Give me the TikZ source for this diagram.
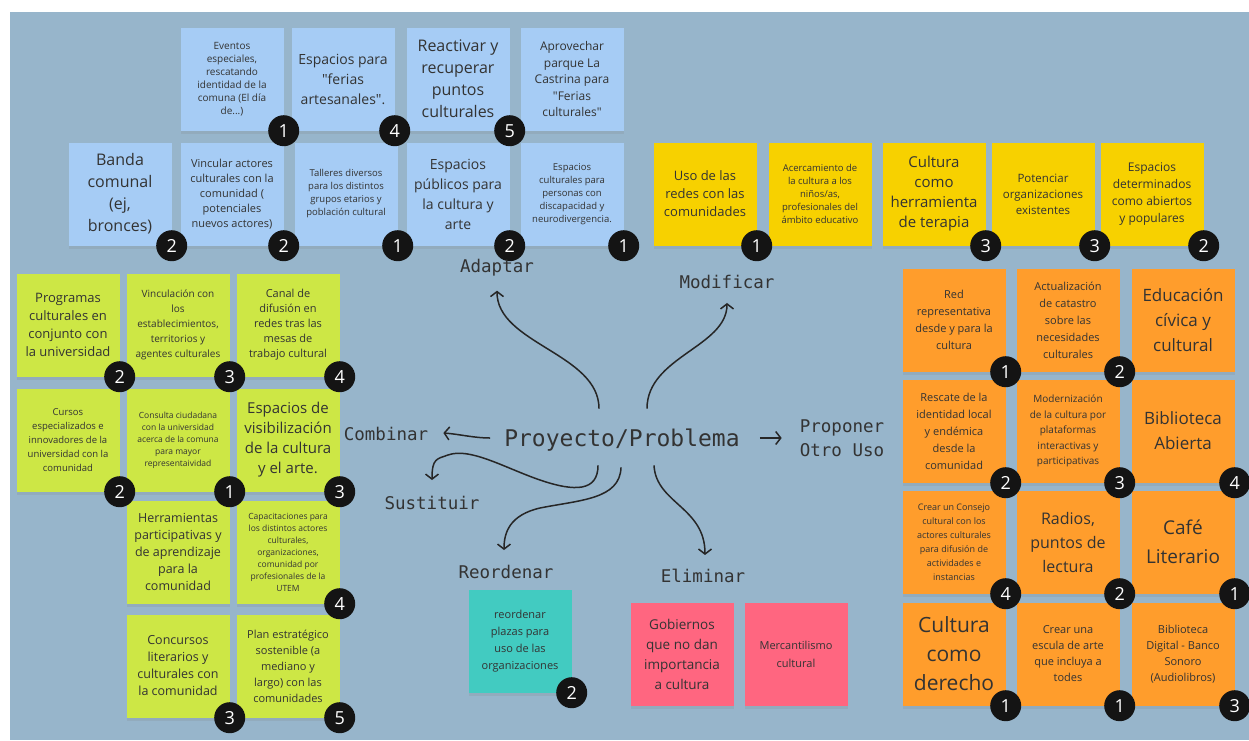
\documentclass[tikz,border=0pt]{standalone}
\usepackage{fontspec}
\setmainfont{Open Sans}
\setmonofont{DejaVu Sans Mono}
\usetikzlibrary{arrows.meta, shadows, calc}
\definecolor{fondo}{HTML}{97B5CB}
\definecolor{azul}{HTML}{A6CCF5}
\definecolor{amarillo}{HTML}{F7D100}
\definecolor{verde}{HTML}{CDE745}
\definecolor{naranja}{HTML}{FF9D2C}
\definecolor{turquesa}{HTML}{42CBC1}
\definecolor{rosa}{HTML}{FF6680}
\newcommand{\fz}[2]{\fontsize{#1}{#2}\selectfont}
\newcommand{\qq}{\textquotedbl}
\tikzstyle{note} = [rectangle, minimum width=103pt, minimum height=103pt, inner sep=0pt, align=center, text=black!80, drop shadow={shadow xshift=0pt, shadow yshift=-3pt, opacity=0.18}]
\tikzstyle{bnote} = [note, fill=azul]
\tikzstyle{ynote} = [note, fill=amarillo]
\tikzstyle{gnote} = [note, fill=verde]
\tikzstyle{onote} = [note, fill=naranja]
\tikzstyle{tnote} = [note, fill=turquesa]
\tikzstyle{pnote} = [note, fill=rosa]
\tikzstyle{badge} = [circle, fill=black!92, text=white, minimum size=31pt, inner sep=0pt, font=\fz{18}{18}]
\tikzstyle{lbl} = [inner sep=2pt, text=black!80, font=\ttfamily\fz{17.5}{24}]
\tikzstyle{arrow} = [-{Straight Barb[length=5pt,width=13pt]}, line width=1.5pt, black!85]

\begin{document}
\begin{tikzpicture}[x=1pt, y=-1pt]
\useasboundingbox (0,0) rectangle (1249,740);
\fill[white] (0,0) rectangle (1249,740);
\fill[fondo] (10,12) rectangle (1249,740);

%Adaptar (azul)
\node (ev) [bnote, font=\fz{10}{13}] at (232,79) {Eventos\\especiales,\\rescatando\\identidad de la\\comuna (El día\\de...)};
\node (fer) [bnote, font=\fz{14}{20}] at (343,79) {Espacios para\\\qq ferias\\artesanales\qq .};
\node (rea) [bnote, font=\fz{16}{22}] at (458,79) {Reactivar y\\recuperar\\puntos\\culturales};
\node (apr) [bnote, font=\fz{12}{16.5}] at (572,79) {Aprovechar\\parque La\\Castrina para\\\qq Ferias\\culturales\qq};
\node (ban) [bnote, font=\fz{16}{22}] at (120,194) {Banda\\comunal\\(ej,\\bronces)};
\node (vin) [bnote, font=\fz{11}{15}] at (232,194) {Vincular actores\\culturales con la\\comunidad (\\potenciales\\nuevos actores)};
\node (tal) [bnote, font=\fz{9.5}{13}] at (346,194) {Talleres diversos\\para los distintos\\grupos etarios y\\población cultural};
\node (esp) [bnote, font=\fz{14}{20}] at (458,194) {Espacios\\públicos para\\la cultura y\\arte};
\node (dis) [bnote, font=\fz{9.5}{13}] at (572,194) {Espacios\\culturales para\\personas con\\discapacidad y\\neurodivergencia.};
\node (ev-n) [badge] at (ev.south east) {1};
\node (fer-n) [badge] at (fer.south east) {4};
\node (rea-n) [badge] at (rea.south east) {5};
\node (ban-n) [badge] at (ban.south east) {2};
\node (vin-n) [badge] at (vin.south east) {2};
\node (tal-n) [badge] at (tal.south east) {1};
\node (esp-n) [badge] at (esp.south east) {2};
\node (dis-n) [badge] at (dis.south east) {1};

%Modificar (amarillo)
\node (red) [ynote, font=\fz{13}{18}] at (705,194) {Uso de las\\redes con las\\comunidades};
\node (ace) [ynote, font=\fz{9.5}{13}] at (820,194) {Acercamiento de\\la cultura a los\\niños/as,\\profesionales del\\ámbito educativo};
\node (ter) [ynote, font=\fz{15}{20}] at (934,194) {Cultura\\como\\herramienta\\de terapia};
\node (pot) [ynote, font=\fz{11.5}{16}] at (1043,194) {Potenciar\\organizaciones\\existentes};
\node (abi) [ynote, font=\fz{12}{17}] at (1152,194) {Espacios\\determinados\\como abiertos\\y populares};
\node (red-n) [badge] at (red.south east) {1};
\node (ter-n) [badge] at (ter.south east) {3};
\node (pot-n) [badge] at (pot.south east) {3};
\node (abi-n) [badge] at (abi.south east) {2};

%Combinar / Sustituir (verde)
\node (pro) [gnote, font=\fz{13}{18}] at (68,325) {Programas\\culturales en\\conjunto con\\la universidad};
\node (vic) [gnote, font=\fz{10}{15}] at (178,325) {Vinculación con\\los\\establecimientos,\\territorios y\\agentes culturales};
\node (can) [gnote, font=\fz{11}{15}] at (288,325) {Canal de\\difusión en\\redes tras las\\mesas de\\trabajo cultural};
\node (cur) [gnote, font=\fz{9.5}{14}] at (68,440) {Cursos\\especializados e\\innovadores de la\\universidad con la\\comunidad};
\node (con) [gnote, font=\fz{8.5}{12}] at (178,440) {Consulta ciudadana\\con la universidad\\acerca de la comuna\\para mayor\\representaividad};
\node (vis) [gnote, font=\fz{15}{20}] at (288,440) {Espacios de\\visibilización\\de la cultura\\y el arte.};
\node (her) [gnote, font=\fz{12.5}{17}] at (178,552) {Herramientas\\participativas y\\de aprendizaje\\para la\\comunidad};
\node (cap) [gnote, font=\fz{8.5}{12}] at (288,552) {Capacitaciones para\\los distintos actores\\culturales,\\organizaciones,\\comunidad por\\profesionales de la\\UTEM};
\node (cnc) [gnote, font=\fz{12.5}{17}] at (178,666) {Concursos\\literarios y\\culturales con\\la comunidad};
\node (pla) [gnote, font=\fz{11}{16}] at (288,666) {Plan estratégico\\sostenible (a\\mediano y\\largo) con las\\comunidades};
\node (pro-n) [badge] at (pro.south east) {2};
\node (vic-n) [badge] at (vic.south east) {3};
\node (can-n) [badge] at (can.south east) {4};
\node (cur-n) [badge] at (cur.south east) {2};
\node (con-n) [badge] at (con.south east) {1};
\node (vis-n) [badge] at (vis.south east) {3};
\node (cap-n) [badge] at (cap.south east) {4};
\node (cnc-n) [badge] at (cnc.south east) {3};
\node (pla-n) [badge] at (pla.south east) {5};

%Proponer otro uso (naranja)
\node (rep) [onote, font=\fz{11}{17}] at (954,320) {Red\\representativa\\desde y para la\\cultura};
\node (act) [onote, font=\fz{11}{17}] at (1068,320) {Actualización\\de catastro\\sobre las\\necesidades\\culturales};
\node (edu) [onote, font=\fz{17}{25}] at (1183,320) {Educación\\cívica y\\cultural};
\node (res) [onote, font=\fz{11}{17}] at (954,431) {Rescate de la\\identidad local\\y endémica\\desde la\\comunidad};
\node (mod) [onote, font=\fz{10}{15.5}] at (1068,431) {Modernización\\de la cultura por\\plataformas\\interactivas y\\participativas};
\node (bib) [onote, font=\fz{17}{25}] at (1183,431) {Biblioteca\\Abierta};
\node (cns) [onote, font=\fz{9}{14}] at (954,542) {Crear un Consejo\\cultural con los\\actores culturales\\para difusión de\\actividades e\\instancias};
\node (rad) [onote, font=\fz{16}{24}] at (1068,542) {Radios,\\puntos de\\lectura};
\node (caf) [onote, font=\fz{19}{29}] at (1183,542) {Café\\Literario};
\node (der) [onote, font=\fz{21}{29}] at (954,654) {Cultura\\como\\derecho};
\node (esc) [onote, font=\fz{11}{16}] at (1068,654) {Crear una\\escula de arte\\que incluya a\\todes};
\node (dig) [onote, font=\fz{11}{16}] at (1183,654) {Biblioteca\\Digital - Banco\\Sonoro\\(Audiolibros)};
\node (rep-n) [badge] at (rep.south east) {1};
\node (act-n) [badge] at (act.south east) {2};
\node (res-n) [badge] at (res.south east) {2};
\node (mod-n) [badge] at (mod.south east) {3};
\node (bib-n) [badge] at (bib.south east) {4};
\node (cns-n) [badge] at (cns.south east) {4};
\node (rad-n) [badge] at (rad.south east) {2};
\node (caf-n) [badge] at (caf.south east) {1};
\node (der-n) [badge] at (der.south east) {1};
\node (esc-n) [badge] at (esc.south east) {1};
\node (dig-n) [badge] at (dig.south east) {3};

%Reordenar / Eliminar
\node (pla2) [tnote, font=\fz{11}{17}] at (520,641) {reordenar\\plazas para\\uso de las\\organizaciones};
\node (pla2-n) [badge] at (pla2.south east) {2};
\node (gob) [pnote, font=\fz{13.5}{20}] at (682,654) {Gobiernos\\que no dan\\importancia\\a cultura};
\node (mer) [pnote, font=\fz{11}{18}] at (796,654) {Mercantilismo\\cultural};

%centro y etiquetas
\node (prob) [inner sep=0pt, text=black!80, font=\ttfamily\fz{23}{26}] at (622,440) {Proyecto/Problema};
\node (adap) [lbl] at (497,268) {Adaptar};
\node (modi) [lbl] at (727,282) {Modificar};
\node (comb) [lbl] at (386,434) {Combinar};
\node (prop) [lbl, align=left] at (842,438) {Proponer\\Otro Uso};
\node (sust) [lbl] at (432,503) {Sustituir};
\node (reor) [lbl] at (506,572) {Reordenar};
\node (elim) [lbl] at (703,576) {Eliminar};

%flechas
\draw [arrow] ($(prob.north)+(-23,-20)$) .. controls ($(prob.north)+(-23,-75)$) and ($(adap.south)+(0,65)$) .. ($(adap.south)+(0,12)$);
\draw [arrow] ($(prob.north)+(25,-20)$) .. controls ($(prob.north)+(25,-72)$) and ($(modi.south)+(0,56)$) .. ($(modi.south)+(0,12)$);
\draw [arrow] ($(prob.west)+(-14,-2)$) .. controls ($(prob.west)+(-30,-2)$) and ($(comb.east)+(28,0)$) .. ($(comb.east)+(13,-1)$);
\draw [arrow] ($(prob.east)+(20,-2)$) -- ($(prop.west)+(-16,0)$);
\draw [arrow] ($(prob.south)+(-24,14)$) .. controls ($(prob.south)+(-24,40)$) and (575,492) .. (540,480) .. controls (505,468) and (470,447) .. (448,455) .. controls (437,459) and ($(sust.north)+(0,-36)$) .. ($(sust.north)+(0,-14)$);
\draw [arrow] ($(prob.south)+(-1,16)$) .. controls ($(prob.south)+(-2,48)$) and (580,500) .. (540,508) .. controls (510,515) and ($(reor.north)+(-2,-31)$) .. ($(reor.north)+(-2,-13)$);
\draw [arrow] ($(prob.south)+(32,14)$) .. controls ($(prob.south)+(34,52)$) and ($(elim.north)+(2,-60)$) .. ($(elim.north)+(2,-12)$);
\end{tikzpicture}
\end{document}
